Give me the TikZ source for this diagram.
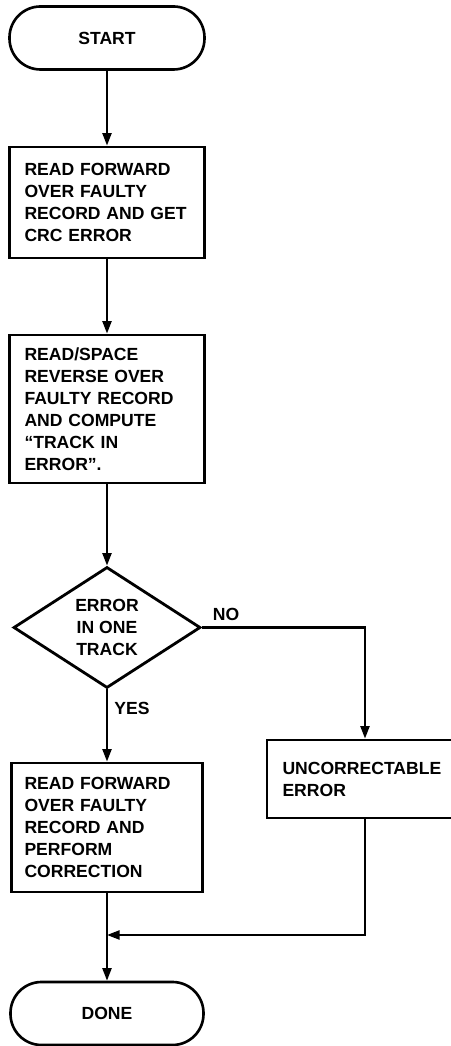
\documentclass[tikz,border=0pt]{standalone}
\usepackage{fontspec}
\setmainfont{Liberation Sans}
\usepackage{tikz}
\usetikzlibrary{arrows.meta}
\usetikzlibrary{shapes.geometric}
\pgfdeclarelayer{edgelayer}
\pgfdeclarelayer{nodelayer}
\pgfsetlayers{edgelayer,nodelayer,main}
\tikzstyle{terminal}=[rectangle,rounded corners=0.62cm,draw=black,fill=white,line width=1.5pt,minimum width=3.9cm,minimum height=1.26cm,font=\fontsize{10}{12.5}\selectfont\bfseries]
\tikzstyle{process}=[rectangle,draw=black,fill=white,line width=1.6pt,minimum width=3.9cm,text width=3.3cm,align=left,inner xsep=0pt,font=\fontsize{10}{12.5}\selectfont\bfseries]
\tikzstyle{decision}=[diamond,draw=black,fill=white,line width=1.6pt,minimum width=3.74cm,minimum height=2.42cm,inner sep=0pt,align=center,font=\fontsize{10}{12.5}\selectfont\bfseries]
\tikzstyle{label}=[font=\fontsize{10}{12.5}\selectfont\bfseries]
\tikzstyle{flow}=[draw=black,line width=1.2pt,-{Triangle[length=0.25cm,width=0.18cm]}]

\begin{document}
\begin{tikzpicture}
					\clip (0,0) rectangle (9,20.92);
					\begin{pgfonlayer}{nodelayer}
						\node [style=terminal] (0) at (2.140,20.160) {START};
						\node [style=process,minimum height=2.22cm] (1) at (2.140,16.870) {READ FORWARD\\OVER FAULTY\\RECORD AND GET\\CRC ERROR};
						\node [style=process,minimum height=2.96cm] (2) at (2.140,12.740) {READ/SPACE\\REVERSE OVER\\FAULTY RECORD\\AND COMPUTE\\``TRACK IN\\ERROR''.};
						\node [style=decision] (3) at (2.140,8.370) {ERROR\\IN ONE\\TRACK};
						\node [style=label] (4) at (4.520,8.640) {NO};
						\node [style=label] (5) at (2.640,6.760) {YES};
						\node [style=process,minimum width=3.82cm,minimum height=2.58cm] (6) at (2.140,4.370) {READ FORWARD\\OVER FAULTY\\RECORD AND\\PERFORM\\CORRECTION};
						\node [style=process,minimum width=3.92cm,minimum height=1.56cm] (7) at (7.300,5.340) {UNCORRECTABLE\\ERROR};
						\node [style=terminal,minimum width=3.86cm] (8) at (2.140,0.650) {DONE};
						\coordinate (9) at (2.140,2.220);
					\end{pgfonlayer}
					\begin{pgfonlayer}{edgelayer}
						\draw [style=flow] (0) to (1);
						\draw [style=flow] (1) to (2);
						\draw [style=flow] (2) to (3);
						\draw [style=flow] (3) to (6);
						\draw [style=flow] (3.east) -| (7.north);
						\draw [style=flow] (7.south) |- (9);
						\draw [style=flow] (6) to (8);
					\end{pgfonlayer}
				\end{tikzpicture}
\end{document}
